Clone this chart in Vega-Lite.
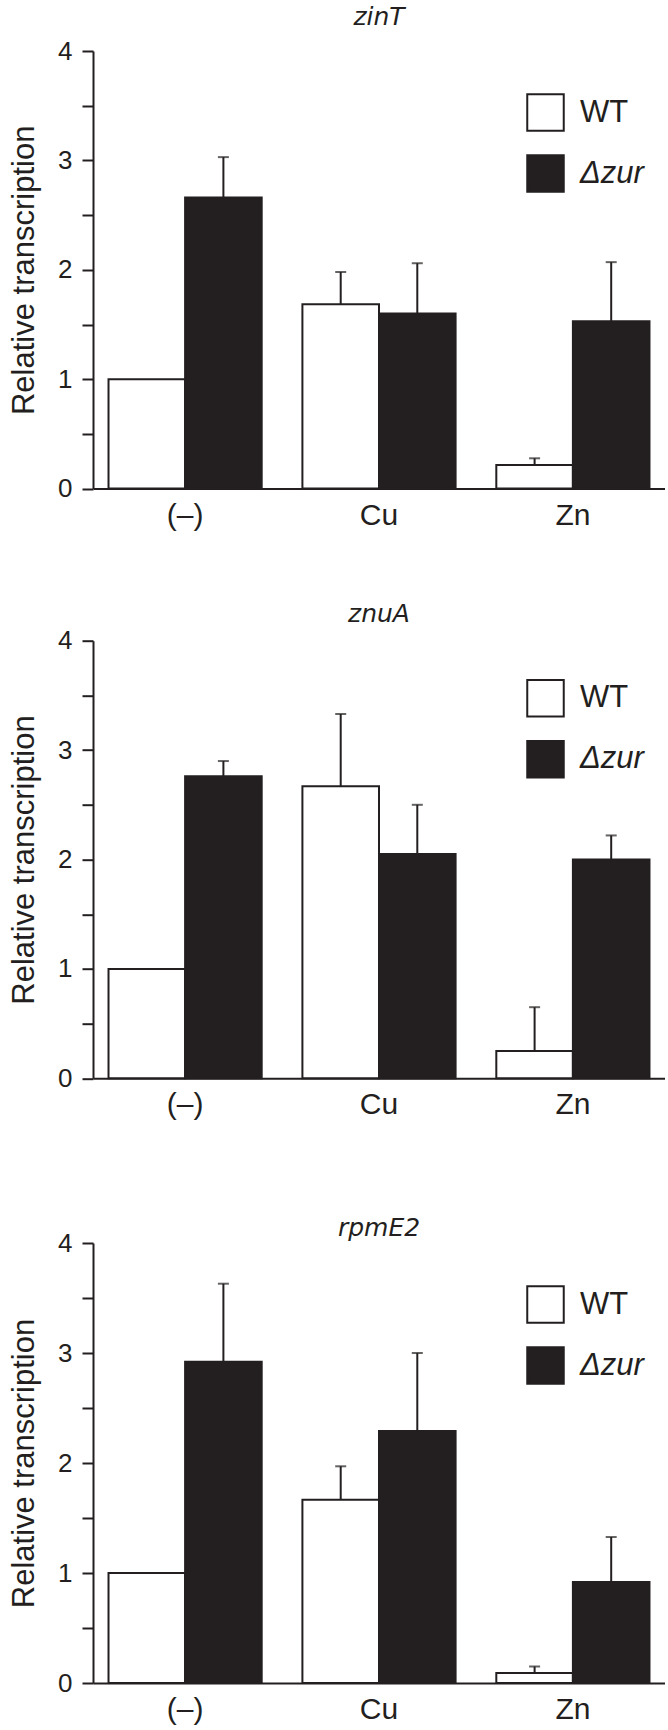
{
  "$schema": "https://vega.github.io/schema/vega-lite/v6.json",
  "padding": {"left": 8, "top": 4, "right": 0, "bottom": 0},
  "background": "white",
  "config": {
    "view": {"stroke": null},
    "font": "Liberation Sans",
    "axis": {"domainColor": "#231f20", "domainWidth": 2, "tickColor": "#231f20", "tickWidth": 2, "labelColor": "#231f20", "titleColor": "#231f20", "labelFont": "Liberation Sans", "titleFont": "Liberation Sans", "grid": false},
    "legend": {"orient": "none", "legendX": 433, "legendY": 42, "title": null, "symbolType": "square", "symbolSize": 1332, "symbolStrokeWidth": 2, "symbolStrokeColor": "#231f20", "labelFontSize": 31, "labelFont": "Liberation Sans", "labelColor": "#231f20", "rowPadding": 16, "labelOffset": 15, "padding": 0},
    "title": {"font": "DejaVu Sans", "fontStyle": "italic", "fontWeight": "normal", "fontSize": 25, "color": "#231f20", "frame": "group", "anchor": "middle"}
  },
  "vconcat": [
    {
      "vconcat": [
        {
          "width": 572, "height": 437.6,
          "title": {"text": "zinT", "offset": 8.4, "fontSize": 25, "font": "DejaVu Sans", "fontStyle": "italic"},
          "data": {"values": [
            {"treatment": "(–)", "strain": "WT", "value": 1.0, "upper": null},
            {"treatment": "(–)", "strain": "Δzur", "value": 2.66, "upper": 3.03},
            {"treatment": "Cu", "strain": "WT", "value": 1.685, "upper": 1.98},
            {"treatment": "Cu", "strain": "Δzur", "value": 1.60, "upper": 2.06},
            {"treatment": "Zn", "strain": "WT", "value": 0.216, "upper": 0.277},
            {"treatment": "Zn", "strain": "Δzur", "value": 1.53, "upper": 2.07}
          ]},
          "encoding": {
            "x": {"field": "treatment", "type": "nominal", "sort": ["(–)", "Cu", "Zn"], "scale": {"paddingInner": 0.21, "paddingOuter": 0.08}, "axis": {"title": null, "ticks": false, "labelAngle": 0, "labelFontSize": 30, "labelPadding": 11.5}},
            "xOffset": {"field": "strain", "type": "nominal", "sort": ["WT", "Δzur"], "scale": {"paddingInner": 0, "paddingOuter": 0}}
          },
          "layer": [
            {"mark": {"type": "bar", "stroke": "#231f20", "strokeWidth": 2},
             "encoding": {
               "y": {"field": "value", "type": "quantitative", "scale": {"domain": [0, 4], "nice": false}, "axis": {"title": "Relative transcription", "titleFontSize": 31, "titleFontWeight": "normal", "titlePadding": 17, "values": [0, 0.5, 1, 1.5, 2, 2.5, 3, 3.5, 4], "labelExpr": "datum.value % 1 === 0 ? format(datum.value, 'd') : ''", "labelFontSize": 26, "labelPadding": 10, "tickSize": 11}},
               "fill": {"field": "strain", "type": "nominal", "scale": {"domain": ["WT", "Δzur"], "range": ["#ffffff", "#231f20"]}, "legend": {"encode": {"labels": {"update": {"fontStyle": {"signal": "datum.value === 'WT' ? 'normal' : 'italic'"}}}}}}
             }},
            {"transform": [{"filter": "isValid(datum.upper)"}], "mark": {"type": "rule", "color": "#231f20", "strokeWidth": 2},
             "encoding": {"y": {"field": "value", "type": "quantitative"}, "y2": {"field": "upper"}}},
            {"transform": [{"filter": "isValid(datum.upper)"}], "mark": {"type": "tick", "color": "#231f20", "thickness": 2, "size": 11, "orient": "horizontal"},
             "encoding": {"y": {"field": "upper", "type": "quantitative"}}}
          ]
        },
        {
          "width": 572, "height": 437.6,
          "title": {"text": "znuA", "offset": 0.7, "fontSize": 25, "font": "DejaVu Sans", "fontStyle": "italic"},
          "data": {"values": [
            {"treatment": "(–)", "strain": "WT", "value": 1.0, "upper": null},
            {"treatment": "(–)", "strain": "Δzur", "value": 2.76, "upper": 2.90},
            {"treatment": "Cu", "strain": "WT", "value": 2.67, "upper": 3.33},
            {"treatment": "Cu", "strain": "Δzur", "value": 2.05, "upper": 2.50},
            {"treatment": "Zn", "strain": "WT", "value": 0.25, "upper": 0.65},
            {"treatment": "Zn", "strain": "Δzur", "value": 2.0, "upper": 2.22}
          ]},
          "encoding": {
            "x": {"field": "treatment", "type": "nominal", "sort": ["(–)", "Cu", "Zn"], "scale": {"paddingInner": 0.21, "paddingOuter": 0.08}, "axis": {"title": null, "ticks": false, "labelAngle": 0, "labelFontSize": 30, "labelPadding": 11.5}},
            "xOffset": {"field": "strain", "type": "nominal", "sort": ["WT", "Δzur"], "scale": {"paddingInner": 0, "paddingOuter": 0}}
          },
          "layer": [
            {"mark": {"type": "bar", "stroke": "#231f20", "strokeWidth": 2},
             "encoding": {
               "y": {"field": "value", "type": "quantitative", "scale": {"domain": [0, 4], "nice": false}, "axis": {"title": "Relative transcription", "titleFontSize": 31, "titleFontWeight": "normal", "titlePadding": 17, "values": [0, 0.5, 1, 1.5, 2, 2.5, 3, 3.5, 4], "labelExpr": "datum.value % 1 === 0 ? format(datum.value, 'd') : ''", "labelFontSize": 26, "labelPadding": 10, "tickSize": 11}},
               "fill": {"field": "strain", "type": "nominal", "scale": {"domain": ["WT", "Δzur"], "range": ["#ffffff", "#231f20"]}, "legend": {"legendY": 38, "encode": {"labels": {"update": {"fontStyle": {"signal": "datum.value === 'WT' ? 'normal' : 'italic'"}}}}}}
             }},
            {"transform": [{"filter": "isValid(datum.upper)"}], "mark": {"type": "rule", "color": "#231f20", "strokeWidth": 2},
             "encoding": {"y": {"field": "value", "type": "quantitative"}, "y2": {"field": "upper"}}},
            {"transform": [{"filter": "isValid(datum.upper)"}], "mark": {"type": "tick", "color": "#231f20", "thickness": 2, "size": 11, "orient": "horizontal"},
             "encoding": {"y": {"field": "upper", "type": "quantitative"}}}
          ]
        }
      ],
      "spacing": 70.7,
      "resolve": {"scale": {"fill": "independent"}, "legend": {"fill": "independent"}}
    },
    {
      "width": 572, "height": 440,
      "title": {"text": "rpmE2", "offset": -11, "fontSize": 25, "font": "DejaVu Sans", "fontStyle": "italic"},
      "data": {"values": [
        {"treatment": "(–)", "strain": "WT", "value": 1.0, "upper": null},
        {"treatment": "(–)", "strain": "Δzur", "value": 2.92, "upper": 3.63},
        {"treatment": "Cu", "strain": "WT", "value": 1.667, "upper": 1.97},
        {"treatment": "Cu", "strain": "Δzur", "value": 2.29, "upper": 3.0},
        {"treatment": "Zn", "strain": "WT", "value": 0.09, "upper": 0.15},
        {"treatment": "Zn", "strain": "Δzur", "value": 0.918, "upper": 1.327}
      ]},
      "encoding": {
        "x": {"field": "treatment", "type": "nominal", "sort": ["(–)", "Cu", "Zn"], "scale": {"paddingInner": 0.21, "paddingOuter": 0.08}, "axis": {"title": null, "ticks": false, "labelAngle": 0, "labelFontSize": 30, "labelPadding": 11.5}},
        "xOffset": {"field": "strain", "type": "nominal", "sort": ["WT", "Δzur"], "scale": {"paddingInner": 0, "paddingOuter": 0}}
      },
      "layer": [
        {"mark": {"type": "bar", "stroke": "#231f20", "strokeWidth": 2},
         "encoding": {
           "y": {"field": "value", "type": "quantitative", "scale": {"domain": [0, 4], "nice": false}, "axis": {"title": "Relative transcription", "titleFontSize": 31, "titleFontWeight": "normal", "titlePadding": 17, "values": [0, 0.5, 1, 1.5, 2, 2.5, 3, 3.5, 4], "labelExpr": "datum.value % 1 === 0 ? format(datum.value, 'd') : ''", "labelFontSize": 26, "labelPadding": 10, "tickSize": 11}},
           "fill": {"field": "strain", "type": "nominal", "scale": {"domain": ["WT", "Δzur"], "range": ["#ffffff", "#231f20"]}, "legend": {"legendY": 42, "encode": {"labels": {"update": {"fontStyle": {"signal": "datum.value === 'WT' ? 'normal' : 'italic'"}}}}}}
         }},
        {"transform": [{"filter": "isValid(datum.upper)"}], "mark": {"type": "rule", "color": "#231f20", "strokeWidth": 2},
         "encoding": {"y": {"field": "value", "type": "quantitative"}, "y2": {"field": "upper"}}},
        {"transform": [{"filter": "isValid(datum.upper)"}], "mark": {"type": "tick", "color": "#231f20", "thickness": 2, "size": 11, "orient": "horizontal"},
         "encoding": {"y": {"field": "upper", "type": "quantitative"}}}
      ]
    }
  ],
  "spacing": 96,
  "resolve": {"scale": {"fill": "independent"}, "legend": {"fill": "independent"}}
}
